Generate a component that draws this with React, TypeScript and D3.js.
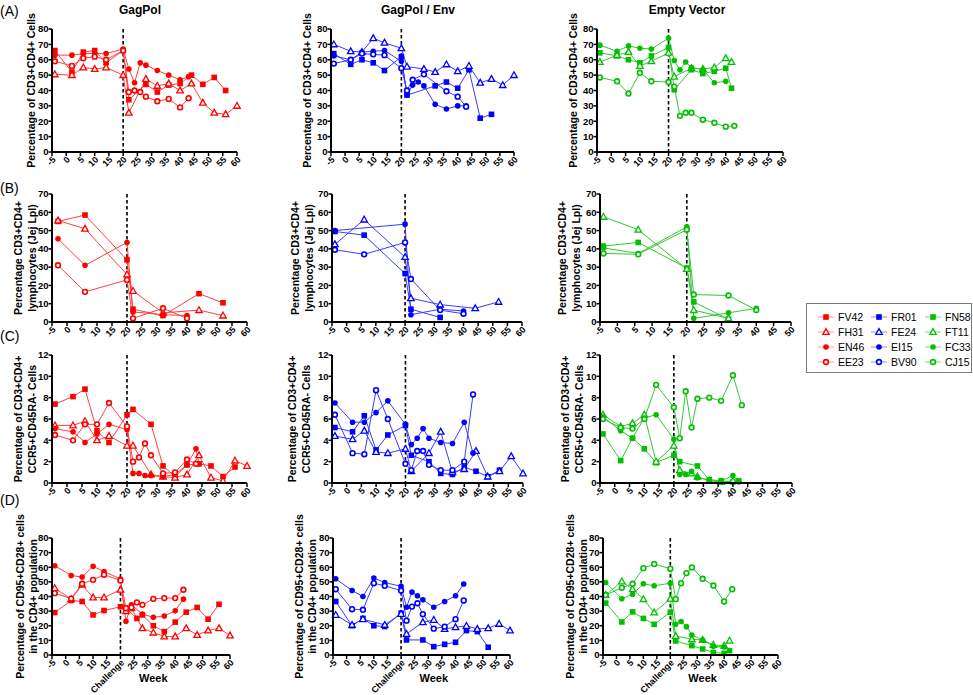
import React from "react";
import * as d3 from "d3";

type Pt = [number, number];

// ---------- labels ----------
const groupTitles = ["GagPol", "GagPol / Env", "Empty Vector"];
const rowLetters = ["(A)", "(B)", "(C)", "(D)"];
const animalsRed = ["FV42", "FH31", "EN46", "EE23"];
const animalsBlue = ["FR01", "FE24", "EI15", "BV90"];
const animalsGreen = ["FN58", "FT11", "FC33", "CJ15"];
const yLabels = [
  ["Percentage of CD3+CD4+ Cells"],
  ["Percentage CD3+CD4+", "lymphocytes (Jej Lpl)"],
  ["Percentage of CD3+CD4+", "CCR5+CD45RA- Cells"],
  ["Percentage of CD95+CD28+ cells", "in the CD4+ population"],
];
const yMaxByRow = [80, 70, 12, 80];
const yStepByRow = [10, 10, 2, 10];
const xMin = -5;
const xMaxByPanel = [
  [60, 60, 60],
  [60, 60, 50],
  [60, 60, 60],
  [60, 60, 60],
];
const xStep = 5;
const challengeWeek = 20;
const challengeLabel = "Challenge";
const weekLabel = "Week";

// ---------- data: [week, value] per animal ----------
// Row A: CD3+CD4+ cells (blood)
const A_GagPol: Pt[][] = [
  [[-4,66],[2,52],[6,65],[10,66],[14,58],[20,66],[22,34],[28,44],[32,39],[36,43.5],[40,44.5],[44,50],[48,44],[52,48.5],[56,40]],
  [[-4,50.5],[2,50],[6,55],[10,54],[14,55],[20,50],[22,25.5],[28,47.5],[32,43],[36,44.5],[40,40],[44,44.5],[48,32],[52,25.5],[56,24.5],[60,30]],
  [[-4,63],[2,63],[6,64],[10,64],[14,64],[20,67],[22,54],[24,45],[26,58],[28,56.5],[32,53],[36,50],[40,47],[43,49]],
  [[-4,59],[2,56],[6,61],[10,62],[14,60],[20,66],[22,39],[24,40],[26,39],[28,36],[32,33],[36,34.5],[40,29],[43,35]],
];
const A_GagPolEnv: Pt[][] = [
  [[-4,64],[2,57],[6,60],[10,58],[14,53],[20,62],[22,37],[32,43],[36,45.5],[40,41.5],[44,53.5],[48,22],[52,24.5]],
  [[-4,70],[2,65.5],[6,65],[10,74],[14,71],[20,67.5],[22,55.5],[28,54],[32,52],[36,57],[40,52.5],[44,56],[48,45],[52,47.5],[56,43.5],[60,50]],
  [[-4,62.5],[2,60],[6,65],[10,65.5],[14,66],[20,59],[22,37.5],[24,43.5],[26,45.5],[28,43],[32,31],[36,28],[40,30],[43,30]],
  [[-4,57.5],[2,60],[6,64],[10,63.5],[14,63],[20,54.5],[22,40],[24,47],[28,50.5],[36,39.5],[40,36],[43,29.5]],
];
const A_Empty: Pt[][] = [
  [[-4,64.5],[2,62.5],[6,60],[10,58],[14,62.5],[20,68],[22,40.5],[28,53.5],[32,51],[36,52.5],[40,54.5],[42,41.5]],
  [[-4,58.5],[2,63],[6,65],[10,56],[14,59],[20,64.5],[22,49],[28,54.5],[32,54],[36,55],[40,61],[42,58.5]],
  [[-4,69.5],[2,65.5],[6,69],[10,67.5],[14,67],[20,74],[22,59.5],[24,53.5],[26,58.5],[28,55],[32,53.5],[36,45],[40,46]],
  [[-4,48.5],[2,46],[6,38],[10,51.5],[14,46],[20,45.5],[22,42.5],[24,23.5],[26,25.5],[28,25.5],[32,21],[36,19],[40,16.5],[43,17]],
];
// Row B: CD3+CD4+ jejunal LPL
const B_GagPol: Pt[][] = [
  [[-3,55],[6,58.5],[20,34],[22,7],[32,3.5],[44,15.5],[52,10.5]],
  [[-3,55.5],[6,51],[20,26],[22,17],[32,5],[44,6.5],[52,3.5]],
  [[-3,45.5],[6,31],[20,43.5],[22,5.5],[32,4],[40,3.5]],
  [[-3,31],[6,16.5],[20,23],[22,2],[32,7.5],[40,2]],
];
const B_GagPolEnv: Pt[][] = [
  [[-4,49.5],[6,47.5],[20,26.5],[22,7],[32,2.5]],
  [[-4,42.5],[6,56],[20,35.5],[22,13],[32,9.5],[44,7.5],[52,11]],
  [[-4,50],[20,53.5],[22,4],[32,7],[40,6]],
  [[-4,39.5],[6,37],[20,43.5],[22,23.5],[32,6.5],[40,4.5]],
];
const B_Empty: Pt[][] = [
  [[-4,41.5],[6,43.5],[20,29.5],[22,11],[32,1.5]],
  [[-4,57.5],[6,50.5],[20,29],[22,6.5],[32,2]],
  [[-4,40.5],[6,37.5],[20,52],[22,2],[32,5],[40,7.5]],
  [[-4,37.5],[6,37],[20,50.5],[22,15],[32,14.5],[40,6.5]],
];
// Row C: CCR5+CD45RA- memory CD4+
const C_GagPol: Pt[][] = [
  [[-4,7.4],[2,8.1],[6,8.8],[10,4.9],[14,3.8],[20,6.4],[22,6.9],[28,5.5],[32,1.6],[36,0.6],[40,1.7],[44,1.8],[48,1.6],[52,0.6],[56,1.5]],
  [[-4,5.4],[2,5.4],[6,5.8],[10,4.0],[14,4.4],[20,3.5],[22,3.5],[28,0.8],[32,0.6],[36,0.5],[40,0.8],[44,2.6],[48,0.5],[52,0.2],[56,2.1],[60,1.6]],
  [[-4,5.1],[2,4.8],[6,3.8],[10,4.6],[14,5.5],[20,5.0],[22,0.9],[24,0.9],[26,0.7],[28,0.7],[32,0.6],[36,0.8],[40,1.7],[43,3.2],[44,1.8]],
  [[-4,4.5],[2,4.0],[6,5.5],[10,5.5],[14,7.5],[20,5.3],[22,2.0],[24,2.4],[26,3.7],[28,2.6],[32,0.9],[36,1.0],[40,2.2],[43,1.8]],
];
const C_GagPolEnv: Pt[][] = [
  [[-4,5.2],[2,4.8],[6,6.3],[10,3.1],[14,4.5],[20,5.4],[22,2.6],[28,2.0],[32,0.9],[36,0.8],[40,1.5],[44,1.1],[48,0.6],[52,1.2]],
  [[-4,4.4],[2,4.1],[6,4.9],[10,2.9],[14,2.8],[20,3.2],[22,1.1],[28,2.8],[32,4.8],[36,1.0],[40,1.3],[44,3.0],[48,0.6],[52,1.1],[56,2.5],[60,0.9]],
  [[-4,7.5],[2,5.7],[6,5.7],[10,6.6],[14,7.7],[20,5.5],[22,3.6],[24,4.2],[26,5.1],[28,4.2],[32,3.8],[36,3.7],[40,5.7],[43,2.8]],
  [[-4,6.4],[2,2.8],[6,2.7],[10,8.7],[14,6.0],[20,1.8],[22,1.2],[24,3.0],[26,3.0],[28,1.7],[32,1.2],[36,1.2],[40,2.0],[43,8.3]],
];
const C_Empty: Pt[][] = [
  [[-4,4.6],[2,2.1],[6,4.2],[10,3.2],[14,1.9],[20,2.6],[22,2.0],[28,1.6],[32,0.3],[36,0.2],[40,0.1],[42,0.2]],
  [[-4,6.4],[2,5.3],[6,5.6],[10,6.4],[14,2.0],[20,3.5],[22,1.2],[26,0.9],[28,0.6],[32,0.2],[36,0.1],[40,0.2]],
  [[-4,6.2],[2,4.9],[6,4.2],[10,6.1],[14,6.4],[20,4.1],[22,0.8],[24,0.8],[26,1.1],[28,0.5],[32,0.3],[36,0.2],[40,0.7],[42,0.1]],
  [[-4,6.0],[2,5.2],[6,5.1],[10,6.0],[14,9.2],[20,7.1],[22,4.2],[24,8.6],[26,5.2],[28,7.9],[32,8.0],[36,7.7],[40,10.1],[43,7.3]],
];
// Row D: CD95+CD28+ central memory in CD4+
const D_GagPol: Pt[][] = [
  [[-4,29],[2,37.3],[6,36.6],[10,27.4],[14,30.4],[20,33],[22,32],[26,25],[28,27.4],[32,20],[36,16],[40,22.5],[44,29.3],[48,32.5],[52,24.5],[56,34.7]],
  [[-4,45.7],[2,38.2],[6,48],[10,39.3],[14,39.3],[20,44.6],[22,30],[24,32],[28,18.3],[32,15.3],[36,12.6],[40,12.6],[44,18.3],[48,13.7],[52,16.7],[56,18.3],[60,13.3]],
  [[-4,61],[2,54.4],[6,53.3],[10,60.6],[14,57.1],[20,52],[22,23],[24,34.3],[28,28],[32,25.8],[36,26.7],[40,30.2],[43,38.2]],
  [[-4,42.3],[2,38.5],[6,48.7],[10,51.4],[14,54.9],[20,51],[22,32],[24,32.5],[26,36],[28,34.3],[32,38.4],[36,38.9],[40,38.9],[43,44.6]],
];
const D_GagPolEnv: Pt[][] = [
  [[-4,36.6],[2,20],[6,25],[10,20],[14,19.5],[20,28.6],[22,10.3],[28,10.3],[32,5.7],[36,7.3],[40,8.7],[44,16.7],[48,16],[52,5.3]],
  [[-4,27.4],[2,20.6],[6,24.5],[14,20.6],[20,28.1],[22,14.4],[28,22.4],[32,24],[36,17.8],[40,19],[44,19.9],[48,17.8],[52,18.3],[56,21.3],[60,16.7]],
  [[-4,52.1],[2,44.1],[6,40],[10,52.6],[14,49.6],[20,46.9],[22,32.7],[24,43],[26,40.5],[28,37.7],[32,32.7],[36,36.6],[40,40.5],[43,48.5]],
  [[-4,45],[2,31.3],[6,30.9],[10,49.1],[14,47.3],[20,44.1],[22,23.5],[24,33.1],[26,35.4],[28,27.9],[32,18],[36,19.4],[40,24.5],[43,37.3]],
];
const D_Empty: Pt[][] = [
  [[-4,35.5],[2,22.6],[6,29.5],[10,25],[14,21],[20,29.3],[22,9.6],[28,6.4],[32,4.1],[36,1.8],[40,1.1],[42,3]],
  [[-4,41],[2,50.3],[6,45],[10,38.2],[14,29],[20,38.4],[22,13],[28,10.7],[32,10.3],[36,6.9],[40,6.4],[42,9.8]],
  [[-4,49.6],[2,38.5],[6,41.5],[10,48.7],[14,47.3],[20,49.1],[22,21],[24,22.9],[26,19.4],[28,13.7],[32,10.3],[36,6],[40,5.5]],
  [[-4,41],[2,46],[6,48.7],[10,59.4],[14,62.2],[20,59],[22,38.2],[24,49.1],[26,56],[28,59.9],[32,52.1],[36,47.5],[40,36.6],[43,45]],
];

const panelData: Pt[][][][] = [
  [A_GagPol, A_GagPolEnv, A_Empty],
  [B_GagPol, B_GagPolEnv, B_Empty],
  [C_GagPol, C_GagPolEnv, C_Empty],
  [D_GagPol, D_GagPolEnv, D_Empty],
];

// ---------- styling / layout ----------
const FONT = "Arial, 'Liberation Sans', Helvetica, sans-serif";
const markerColors = ["#ff0000", "#0000ff", "#00c000"];
const lineColors = ["#ff4040", "#3a3aff", "#33c833"];
const legendLineColors = ["#ff9a9a", "#8f8fff", "#7ddc7d"];

const rowLayout = [
  { top: 29, bottom: 152, letterY: 16, labelX: [31, 307, 573] },
  { top: 194, bottom: 322, letterY: 193, labelX: [18, 295, 562] },
  { top: 355, bottom: 483, letterY: 341, labelX: [18, 292, 565] },
  { top: 538, bottom: 655, letterY: 505, labelX: [20, 299, 570] },
];
const labelLineGap = [0, 14.5, 14, 13.5];
const colLayout = [
  [[52, 237], [331, 514], [597, 783]],
  [[52, 247], [332, 522], [600, 791]],
  [[52, 247], [332, 523], [600, 792]],
  [[52, 230], [333, 510], [603, 778]],
];
const titleX = [140, 418, 687];

function Marker({ shape, x, y, color }: { shape: number; x: number; y: number; color: string }) {
  if (shape === 0) return <rect x={x - 2.8} y={y - 2.8} width={5.6} height={5.6} fill={color} />;
  if (shape === 1) {
    const s = 3.4;
    return (
      <path
        d={`M${x},${y - s}L${x + s * 0.95},${y + s * 0.7}L${x - s * 0.95},${y + s * 0.7}Z`}
        fill="#fff"
        stroke={color}
        strokeWidth={1.3}
      />
    );
  }
  if (shape === 2) return <circle cx={x} cy={y} r={2.8} fill={color} />;
  return <circle cx={x} cy={y} r={2.4} fill="#fff" stroke={color} strokeWidth={1.6} />;
}

function Panel({ row, col }: { row: number; col: number }) {
  const rl = rowLayout[row];
  const [x0, x1] = colLayout[row][col];
  const xMax = xMaxByPanel[row][col];
  const x = d3.scaleLinear().domain([xMin, xMax]).range([x0, x1]);
  const y = d3.scaleLinear().domain([0, yMaxByRow[row]]).range([rl.bottom, rl.top]);
  const xt = d3.range(xMin, xMax + 0.01, xStep);
  const yt = d3.range(0, yMaxByRow[row] + 0.01, yStepByRow[row]);
  const line = d3
    .line<Pt>()
    .x((d) => x(d[0]))
    .y((d) => y(d[1]));
  const series = panelData[row][col];
  const lx = rl.labelX[col];
  const lines = yLabels[row];
  const cy = (rl.top + rl.bottom) / 2;
  return (
    <g>
      {lines.map((t, i) => (
        <text
          key={i}
          transform={`translate(${lx + 3.6 + i * labelLineGap[row]},${cy}) rotate(-90)`}
          textAnchor="middle"
          fontSize={10.5}
          fontWeight="bold"
          fontFamily={FONT}
        >
          {t}
        </text>
      ))}
      <line
        x1={x(challengeWeek)}
        x2={x(challengeWeek)}
        y1={rl.top}
        y2={rl.bottom}
        stroke="#000"
        strokeWidth={1.6}
        strokeDasharray="3.5,2.5"
      />
      {series.map((s, i) => (
        <path key={"l" + i} d={line(s) || ""} fill="none" stroke={lineColors[col]} strokeWidth={1} />
      ))}
      {series.map((s, i) =>
        s.map((p, j) => <Marker key={`m${i}-${j}`} shape={i} x={x(p[0])} y={y(p[1])} color={markerColors[col]} />)
      )}
      <line x1={x0} x2={x0} y1={rl.top} y2={rl.bottom + 1} stroke="#000" strokeWidth={2} />
      <line x1={x0 - 1} x2={x1} y1={rl.bottom} y2={rl.bottom} stroke="#000" strokeWidth={2} />
      {yt.map((v) => (
        <g key={"y" + v}>
          <line x1={x0 - 3.5} x2={x0} y1={y(v)} y2={y(v)} stroke="#000" strokeWidth={1.5} />
          <text
            x={x0 - 3.5}
            y={y(v)}
            dy="0.35em"
            textAnchor="end"
            fontSize={9.5}
            fontWeight="bold"
            fontFamily={FONT}
          >
            {v}
          </text>
        </g>
      ))}
      {xt.map((v) => (
        <g key={"x" + v}>
          <line x1={x(v)} x2={x(v)} y1={rl.bottom} y2={rl.bottom + 4} stroke="#000" strokeWidth={1.5} />
          <text
            transform={`translate(${x(v) + 2},${rl.bottom + 6}) rotate(-45)`}
            dy="0.35em"
            textAnchor="end"
            fontSize={9}
            fontWeight="bold"
            fontFamily={FONT}
          >
            {row === 3 && v === challengeWeek ? challengeLabel : v}
          </text>
        </g>
      ))}
      {row === 3 && (
        <text x={x(32)} y={682} textAnchor="middle" fontSize={11} fontWeight="bold" fontFamily={FONT}>
          {weekLabel}
        </text>
      )}
    </g>
  );
}

function Legend() {
  const groups = [animalsRed, animalsBlue, animalsGreen];
  const colX = [818, 871, 925];
  const rowY = [317, 332, 347, 362];
  return (
    <g>
      <rect x={806.5} y={303.5} width={165} height={69} fill="#fff" stroke="#7a7a7a" strokeWidth={1} />
      {groups.map((names, c) =>
        names.map((n, r) => (
          <g key={n}>
            <line x1={colX[c]} x2={colX[c] + 16} y1={rowY[r]} y2={rowY[r]} stroke={legendLineColors[c]} strokeWidth={1} />
            <Marker shape={r} x={colX[c] + 8} y={rowY[r]} color={markerColors[c]} />
            <text x={colX[c] + 20} y={rowY[r]} dy="0.35em" fontSize={10.5} fontFamily={FONT}>
              {n}
            </text>
          </g>
        ))
      )}
    </g>
  );
}

export default function App() {
  return (
    <svg
      width={973}
      height={695}
      style={{ position: "absolute", left: 0, top: 0, background: "#fff" }}
      xmlns="http://www.w3.org/2000/svg"
    >
      <rect width={973} height={695} fill="#fff" />
      {groupTitles.map((t, i) => (
        <text key={t} x={titleX[i]} y={14} textAnchor="middle" fontSize={12} fontWeight="bold" fontFamily={FONT}>
          {t}
        </text>
      ))}
      {rowLetters.map((t, i) => (
        <text key={t} x={0} y={rowLayout[i].letterY} fontSize={14} fontFamily={FONT}>
          {t}
        </text>
      ))}
      {[0, 1, 2, 3].map((r) => [0, 1, 2].map((c) => <Panel key={`${r}-${c}`} row={r} col={c} />))}
      <Legend />
    </svg>
  );
}
